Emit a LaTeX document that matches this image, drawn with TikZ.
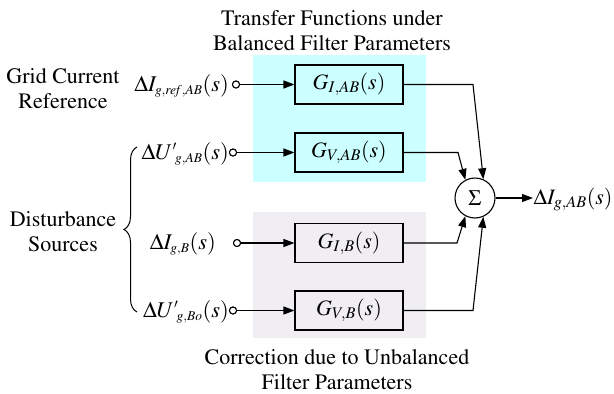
\documentclass[tikz,border=0pt]{standalone}
\usepackage[T1]{fontenc}
\usepackage{mathptmx}
\usetikzlibrary{arrows.meta,decorations.pathreplacing}
\definecolor{cyanbg}{RGB}{204,255,255}
\definecolor{graybg}{RGB}{240,238,243}
\DeclareMathSizes{22.5}{22.5}{13.5}{10}
\begin{document}
\begin{tikzpicture}[x=1pt,y=-1pt,
  font=\fontsize{22}{25.5}\selectfont,
  blk/.style={draw, line width=1.1pt, minimum width=108pt, minimum height=39pt, inner sep=0pt},
  term/.style={draw, circle, line width=1pt, minimum size=7pt, inner sep=0pt, fill=white},
  conn/.style={line width=1.1pt},
  arr/.style={conn, -{Triangle[length=11pt,width=8pt]}},
  lbl/.style={inner sep=0pt, anchor=base east, font=\fontsize{22.5}{25}\selectfont},
  txt/.style={align=center, inner sep=0pt}]
\useasboundingbox (0,0) rectangle (614,394);
\fill[cyanbg] (253,55) rectangle (426,182);
\fill[graybg] (253,212) rectangle (426,338);
% titles
\node[txt] (ttop) at (332,30.5) {Transfer Functions under\\Balanced Filter Parameters};
\node[txt] (tbot) at (337,369.5) {Correction due to Unbalanced\\Filter Parameters};
\node[txt] (grid) at (63,88.5) {Grid Current\\Reference};
\node[txt] (dist) at (63,231.5) {Disturbance\\Sources};
% blocks
\node[blk] (g1) at (349,84.5) {$G_{I,AB}(s)$};
\node[blk] (g2) at (349,152.5) {$G_{V,AB}(s)$};
\node[blk] (g3) at (349,243) {$G_{I,B}(s)$};
\node[blk] (g4) at (349,310.5) {$G_{V,B}(s)$};
% inputs
\node[term] (t1) at (236,84.5) {};
\node[term] (t2) at (233,152.5) {};
\node[term] (t3) at (237,243) {};
\node[term] (t4) at (233,310.5) {};
\node[lbl] (l1) at (229,91) {$\Delta I_{g,\mathit{ref},AB}(s)$};
\node[lbl] (l2) at (229,159) {$\Delta {U'}_{\!g,AB}(s)$};
\node[lbl] (l3) at (216,249.5) {$\Delta I_{g,B}(s)$};
\node[lbl] (l4) at (229,317) {$\Delta {U'}_{\!g,Bo}(s)$};
\draw[arr] (t1) -- (g1.west);
\draw[arr] (t2) -- (g2.west);
\draw[arr] (t3) -- (g3.west);
\draw[arr] (t4) -- (g4.west);
\node[term] at (t1) {};
\node[term] at (t2) {};
\node[term] at (t3) {};
\node[term] at (t4) {};
% sum
\node[draw, circle, minimum size=40pt, inner sep=0pt, line width=1.1pt] (sum) at (475,198) {$\Sigma$};
\coordinate (c1) at (473,84.5);
\coordinate (c2) at (458,152.5);
\coordinate (c3) at (457,243);
\coordinate (c4) at (473,310.5);
\draw[arr] (g1.east) -- (c1) -- (sum.66);
\draw[arr] (g2.east) -- (c2) -- (sum.118);
\draw[arr] (g3.east) -- (c3) -- (sum.242);
\draw[arr] (g4.east) -- (c4) -- (sum.294);
\coordinate (oe) at (533,198);
\draw[arr] (sum.east) -- (oe);
\node[inner sep=0pt, anchor=base west] (out) at (533.5,204) {$\Delta I_{g,AB}(s)$};
% brace
\coordinate (bt) at (137,147);
\coordinate (bb) at (137,312);
\draw[decorate, decoration={brace, amplitude=13pt}, line width=1pt] (bb) -- (bt);
\end{tikzpicture}
\end{document}
